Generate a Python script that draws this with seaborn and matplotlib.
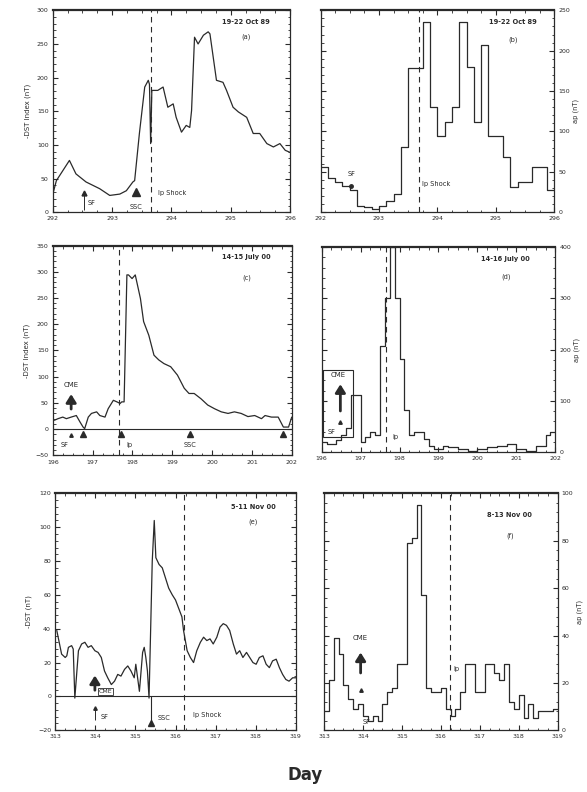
import numpy as np
import pandas as pd
import seaborn as sns
import matplotlib.pyplot as plt
from matplotlib.ticker import AutoMinorLocator, MultipleLocator
from matplotlib.patches import Rectangle

# ---- data ----
# (a) -Dst, 19-22 Oct 89
oct_dst_day = [292.00, 292.06, 292.28, 292.39, 292.56, 292.79, 292.96, 293.13, 293.24, 293.35,
               293.38, 293.46, 293.55, 293.61, 293.63, 293.65, 293.67, 293.77, 293.86, 293.94,
               294.03, 294.08, 294.17, 294.25, 294.31, 294.34, 294.39, 294.45, 294.54, 294.62,
               294.65, 294.76, 294.87, 294.93, 295.04, 295.13, 295.27, 295.38, 295.49, 295.61,
               295.72, 295.83, 295.92, 296.00]
oct_dst = [27, 47, 77, 57, 45, 35, 25, 27, 32, 45,
           47, 117, 186, 196, 190, 102, 181, 181, 186, 156,
           161, 141, 119, 129, 126, 151, 260, 250, 263, 268,
           265, 196, 193, 181, 156, 149, 141, 117, 117, 102,
           97, 102, 92, 89]

# (b) ap, 3-hourly from day 292
oct_ap = [56, 43, 37, 33, 27, 8, 6, 4, 8, 14, 23, 81, 178, 178, 236, 130,
          95, 112, 130, 236, 180, 112, 207, 95, 95, 68, 31, 37, 37, 56, 56, 27]

# (c) -Dst, 14-15 July 00
jul_dst_day = [196.04, 196.13, 196.25, 196.34, 196.46, 196.59, 196.68, 196.76, 196.80, 196.89,
               196.97, 197.10, 197.18, 197.31, 197.39, 197.52, 197.61, 197.69, 197.73, 197.79,
               197.86, 197.90, 197.99, 198.07, 198.20, 198.28, 198.41, 198.54, 198.66, 198.79,
               198.96, 199.13, 199.30, 199.42, 199.55, 199.72, 199.89, 200.06, 200.23, 200.40,
               200.56, 200.73, 200.90, 201.07, 201.24, 201.33, 201.49, 201.66, 201.79, 201.92,
               202.00]
jul_dst = [17, 20, 23, 20, 23, 26, 14, 4, 1, 23,
           30, 33, 26, 23, 39, 55, 52, 49, 52, 52,
           294, 294, 287, 294, 249, 205, 179, 141, 132, 125,
           119, 103, 78, 68, 68, 58, 46, 39, 33, 30,
           33, 30, 24, 26, 20, 26, 23, 23, 4, 4,
           23]

# (d) ap, 3-hourly from day 196
jul_ap = [20, 17, 17, 23, 33, 48, 112, 112, 20, 30, 40, 33, 208, 301, 400, 301,
          182, 83, 33, 40, 40, 26, 13, 7, 7, 13, 10, 10, 7, 7, 3, 3,
          7, 7, 10, 10, 13, 13, 17, 17, 7, 7, 3, 3, 13, 13, 33, 40]

# (e) -Dst, Nov 00
nov_dst_day = [313.04, 313.16, 313.25, 313.29, 313.33, 313.41, 313.45, 313.49, 313.58, 313.66,
               313.74, 313.82, 313.90, 313.99, 314.07, 314.15, 314.23, 314.31, 314.40, 314.48,
               314.56, 314.64, 314.73, 314.81, 314.89, 314.97, 315.01, 315.10, 315.18, 315.22,
               315.26, 315.30, 315.34, 315.42, 315.47, 315.51, 315.55, 315.59, 315.67, 315.75,
               315.83, 315.92, 316.00, 316.08, 316.16, 316.20, 316.29, 316.37, 316.45, 316.53,
               316.62, 316.70, 316.78, 316.86, 316.94, 317.03, 317.11, 317.19, 317.27, 317.35,
               317.44, 317.52, 317.60, 317.68, 317.77, 317.85, 317.93, 318.01, 318.09, 318.18,
               318.26, 318.34, 318.42, 318.51, 318.59, 318.67, 318.75, 318.83, 318.92, 319.00]
nov_dst = [39, 25, 23, 24, 29, 30, 28, -1, 27, 31,
           32, 29, 30, 27, 26, 23, 15, 11, 7, 9,
           13, 12, 16, 18, 15, 11, 19, 3, 26, 29,
           23, 15, -1, 80, 104, 82, 80, 78, 76, 70,
           64, 60, 57, 52, 47, 39, 27, 23, 20, 27,
           32, 35, 33, 34, 31, 35, 41, 43, 42, 39,
           31, 25, 27, 23, 26, 23, 20, 19, 23, 24,
           19, 17, 21, 22, 17, 13, 10, 9, 11, 11]

# (f) ap, 3-hourly from day 313
nov_ap = [8, 21, 39, 32, 19, 13, 9, 11, 6, 4, 6, 4, 11, 16, 18, 28,
          28, 79, 81, 95, 57, 18, 16, 16, 18, 9, 6, 9, 16, 28, 28, 16,
          16, 28, 28, 24, 21, 28, 12, 9, 15, 5, 11, 5, 8, 8, 8, 9]

titles = ['19-22 Oct 89', '19-22 Oct 89', '14-15 July 00', '14-16 July 00', '5-11 Nov 00', '8-13 Nov 00']
letters = ['(a)', '(b)', '(c)', '(d)', '(e)', '(f)']

sns.set_theme(style="ticks")
plt.rcParams['font.family'] = ['DejaVu Sans']
plt.rcParams['axes.linewidth'] = 0.9

INK = '#2a2a2a'
fig = plt.figure(figsize=(5.87, 7.92), dpi=100)

# axes boxes [left, bottom, width, height] from pixel layout
ax_a = fig.add_axes([0.090, 0.732, 0.404, 0.255])
ax_b = fig.add_axes([0.546, 0.732, 0.398, 0.255])
ax_c = fig.add_axes([0.090, 0.425, 0.407, 0.265])
ax_d = fig.add_axes([0.548, 0.429, 0.398, 0.259])
ax_e = fig.add_axes([0.094, 0.078, 0.410, 0.299])
ax_f = fig.add_axes([0.552, 0.078, 0.398, 0.299])


def frame(ax, xlim, ylim, ystep, right=False):
    ax.set_xlim(*xlim)
    ax.set_ylim(*ylim)
    ax.xaxis.set_major_locator(MultipleLocator(1))
    ax.yaxis.set_major_locator(MultipleLocator(ystep))
    ax.xaxis.set_minor_locator(AutoMinorLocator(4))
    ax.yaxis.set_minor_locator(AutoMinorLocator(5))
    ax.tick_params(which='both', direction='in', top=True, right=True, left=True,
                   labelsize=4.5, colors=INK, pad=3)
    ax.tick_params(which='major', length=3.5, width=0.8)
    ax.tick_params(which='minor', length=1.8, width=0.6)
    if right:
        ax.yaxis.tick_right()
        ax.tick_params(which='both', left=True)
        ax.yaxis.set_label_position('right')
    for s in ax.spines.values():
        s.set_color(INK)
    ax.spines['top'].set_linewidth(1.6)
    ax.set_xlabel('')


def line(ax, days, vals):
    sns.lineplot(x=days, y=vals, ax=ax, color=INK, lw=0.9, estimator=None, sort=False)


def steps(ax, start, vals):
    edges = start + 0.125 * np.arange(len(vals) + 1)
    sns.lineplot(x=edges, y=list(vals) + [vals[-1]], ax=ax, color=INK, lw=0.9,
                 estimator=None, sort=False, drawstyle='steps-post')


def label(ax, x, y, s, size=4.8, **kw):
    ax.text(x, y, s, fontsize=size, color=INK, ha='center', va='center', **kw)


def up_arrow(ax, x, y0, y1):
    ax.annotate('', xy=(x, y1), xytext=(x, y0),
                arrowprops=dict(arrowstyle='-|>,head_width=0.25,head_length=0.4',
                                color=INK, lw=2.0))


# (a)
line(ax_a, oct_dst_day, oct_dst)
frame(ax_a, (292, 296), (0, 300), 50)
ax_a.axvline(293.66, color=INK, ls=(0, (5, 4)), lw=0.8)
ax_a.plot(292.52, 28, marker='^', color=INK, ms=3.5)
ax_a.vlines(292.52, 4, 28, color=INK, lw=0.7)
label(ax_a, 292.66, 14, 'SF')
ax_a.plot(293.41, 30, marker='^', color=INK, ms=6)
label(ax_a, 293.41, 8, 'SSC')
label(ax_a, 294.02, 28, 'Ip Shock')
label(ax_a, 295.26, 283, titles[0], weight='bold')
label(ax_a, 295.26, 260, letters[0])
ax_a.set_ylabel('-DST Index (nT)', fontsize=5, color=INK, labelpad=4)

# (b)
steps(ax_b, 292, oct_ap)
frame(ax_b, (292, 296), (0, 250), 50, right=True)
ax_b.axvline(293.68, color=INK, ls=(0, (5, 4)), lw=0.8)
ax_b.plot(292.53, 33, marker='o', color=INK, ms=2.5)
label(ax_b, 292.53, 47, 'SF')
label(ax_b, 293.98, 35, 'Ip Shock')
label(ax_b, 295.3, 236, titles[1], weight='bold')
label(ax_b, 295.3, 214, letters[1])
ax_b.set_ylabel('ap (nT)', fontsize=4.8, color=INK, labelpad=2)

# (c)
line(ax_c, jul_dst_day, jul_dst)
frame(ax_c, (196, 202), (-50, 350), 50)
ax_c.axhline(0, color=INK, lw=0.8)
ax_c.axvline(197.65, color=INK, ls=(0, (5, 4)), lw=0.8)
for d in [196.76, 197.70, 199.45, 201.79]:
    ax_c.plot(d, -9, marker='^', color=INK, ms=4.5)
up_arrow(ax_c, 196.46, 33, 72)
label(ax_c, 196.46, 85, 'CME', size=5)
ax_c.plot(196.46, -12, marker='^', color=INK, ms=2.5)
label(ax_c, 196.3, -30, 'SF')
label(ax_c, 197.92, -30, 'Ip')
label(ax_c, 199.45, -30, 'SSC')
label(ax_c, 200.86, 328, titles[2], weight='bold')
label(ax_c, 200.86, 288, letters[2])
ax_c.set_ylabel('-DST Index (nT)', fontsize=5, color=INK, labelpad=4)

# (d)
steps(ax_d, 196, jul_ap)
frame(ax_d, (196, 202), (0, 400), 100, right=True)
ax_d.axvline(197.65, color=INK, ls=(0, (5, 4)), lw=0.8)
ax_d.add_patch(Rectangle((196.04, 30), 0.76, 130, fill=False, ec=INK, lw=0.8))
label(ax_d, 196.42, 150, 'CME', size=5)
up_arrow(ax_d, 196.48, 75, 138)
ax_d.plot(196.48, 58, marker='^', color=INK, ms=2.5)
label(ax_d, 196.25, 40, 'SF')
label(ax_d, 197.9, 30, 'Ip')
label(ax_d, 200.73, 376, titles[3], weight='bold')
label(ax_d, 200.73, 343, letters[3])
ax_d.set_ylabel('ap (nT)', fontsize=4.8, color=INK, labelpad=2)

# (e)
line(ax_e, nov_dst_day, nov_dst)
frame(ax_e, (313, 319), (-20, 120), 20)
ax_e.axhline(0, color=INK, lw=0.8)
ax_e.axvline(316.2, color=INK, ls=(0, (5, 4)), lw=0.8)
up_arrow(ax_e, 313.99, 2, 14)
ax_e.text(314.08, 3, 'CME', fontsize=4.5, color=INK, va='center',
          bbox=dict(boxstyle='square,pad=0.15', fc='white', ec=INK, lw=0.6))
ax_e.plot(313.99, -7, marker='^', color=INK, ms=2.5)
ax_e.vlines(313.99, -14, -7, color=INK, lw=0.7)
label(ax_e, 314.22, -12, 'SF')
ax_e.vlines(315.38, -15, 0, color=INK, lw=0.8)
ax_e.plot(315.38, -16, marker='^', color=INK, ms=5)
label(ax_e, 315.72, -13, 'SSC')
label(ax_e, 316.78, -11, 'Ip Shock')
label(ax_e, 317.93, 112, titles[4], weight='bold')
label(ax_e, 317.93, 103, letters[4])
ax_e.set_ylabel('-DST (nT)', fontsize=5, color=INK, labelpad=4)

# (f)
steps(ax_f, 313, nov_ap)
frame(ax_f, (313, 319), (0, 100), 20, right=True)
ax_f.axvline(316.23, color=INK, ls=(0, (5, 4)), lw=0.8)
up_arrow(ax_f, 313.94, 23, 34)
label(ax_f, 313.94, 39, 'CME', size=5)
ax_f.plot(313.94, 17, marker='^', color=INK, ms=2.5)
label(ax_f, 314.1, 3.5, 'SF')
label(ax_f, 316.4, 26, 'Ip')
label(ax_f, 317.77, 91, titles[5], weight='bold')
label(ax_f, 317.77, 82, letters[5])
ax_f.set_ylabel('ap (nT)', fontsize=4.8, color=INK, labelpad=2)

fig.text(0.52, 0.021, 'Day', fontsize=12, weight='bold', color=INK, ha='center', va='center')

fig.savefig('out.png', dpi=100)
